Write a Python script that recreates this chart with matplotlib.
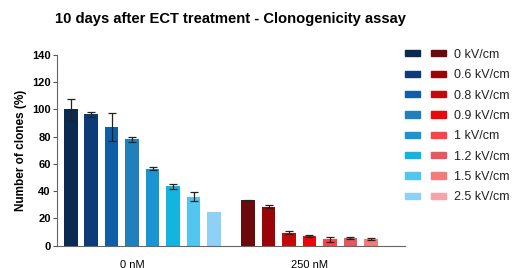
import matplotlib
matplotlib.use("Agg")
import matplotlib.pyplot as plt
from matplotlib.patches import Patch
from matplotlib.legend_handler import HandlerTuple

plt.rcParams['font.family'] = ['Liberation Sans', 'DejaVu Sans']

groups = ["0 nM", "250 nM"]
fields = ["0 kV/cm", "0.6 kV/cm", "0.8 kV/cm", "0.9 kV/cm", "1 kV/cm",
          "1.2 kV/cm", "1.5 kV/cm", "2.5 kV/cm"]
vals_0nM = [100, 96.5, 87, 78, 56.5, 43.5, 36, 25]
err_0nM = [7.5, 2, 10.5, 2, 1, 2, 3.5, 0]
vals_250nM = [33.3, 28.6, 9.5, 7.1, 4.6, 5.6, 5.1]
err_250nM = [0.5, 1, 1, 0.7, 2, 0.7, 0.8]

blues = ["#0a2a52", "#0c3b78", "#0f5ea8", "#2180bb", "#1a95d1", "#14b4e0",
         "#52c6ee", "#8ed0f6"]
reds = ["#6b0a0c", "#990406", "#c10a0c", "#e8080b", "#f6444a", "#e35a5e",
        "#f47b7a", "#f6a3a9"]

fig = plt.figure(figsize=(5.14, 2.68), dpi=100)
ax = fig.add_axes([0.111, 0.083, 0.677, 0.712])

w = 0.66
gap = 1.67
x0 = list(range(len(vals_0nM)))
x1 = [len(vals_0nM) - 1 + gap + i for i in range(len(vals_250nM))]

ax.bar(x0, vals_0nM, width=w, color=blues[:len(vals_0nM)], zorder=2)
ax.bar(x1, vals_250nM, width=w, color=reds[:len(vals_250nM)], zorder=2)
for xs, vs, es in [(x0, vals_0nM, err_0nM), (x1, vals_250nM, err_250nM)]:
    xe = [x for x, e in zip(xs, es) if e > 0]
    ve = [v for v, e in zip(vs, es) if e > 0]
    ee = [e for e in es if e > 0]
    ax.errorbar(xe, ve, yerr=ee, fmt='none', ecolor='#222222', elinewidth=0.9,
                capsize=3, capthick=0.9, zorder=3)

ax.set_xlim(-0.67, len(vals_0nM) - 1 + gap + len(fields) - 1 + 0.67)
ax.set_ylim(0, 140)
ax.set_yticks(range(0, 141, 20))
ax.set_xticks([3.0, x1[0] + 3.0])
ax.set_xticklabels(groups, fontsize=8)
ax.tick_params(axis='x', length=0, pad=10)
ax.tick_params(axis='y', length=3, width=0.8, color='#555555', labelsize=8, pad=1.5)
for lab in ax.get_yticklabels():
    lab.set_fontweight('bold')
for s in ['top', 'right']:
    ax.spines[s].set_visible(False)
for s in ['left', 'bottom']:
    ax.spines[s].set_color('#666666')
    ax.spines[s].set_linewidth(0.8)
ax.set_ylabel("Number of clones (%)", fontsize=8.5, fontweight='bold', labelpad=4)

fig.text(0.449, 0.93, "10 days after ECT treatment - Clonogenicity assay",
         fontsize=10.6, fontweight='bold', ha='center', va='center')

handles = [(Patch(color=b), Patch(color=r)) for b, r in zip(blues, reds)]
fig.legend(handles, fields, handler_map={tuple: HandlerTuple(ndivide=None, pad=0.89)},
           loc='upper left', bbox_to_anchor=(0.788, 0.818), frameon=False,
           fontsize=9, handlelength=3.28, handleheight=0.4, labelspacing=0.67,
           handletextpad=0.64, borderpad=0, borderaxespad=0, labelcolor='#222222')

fig.savefig("out.png", dpi=100)
